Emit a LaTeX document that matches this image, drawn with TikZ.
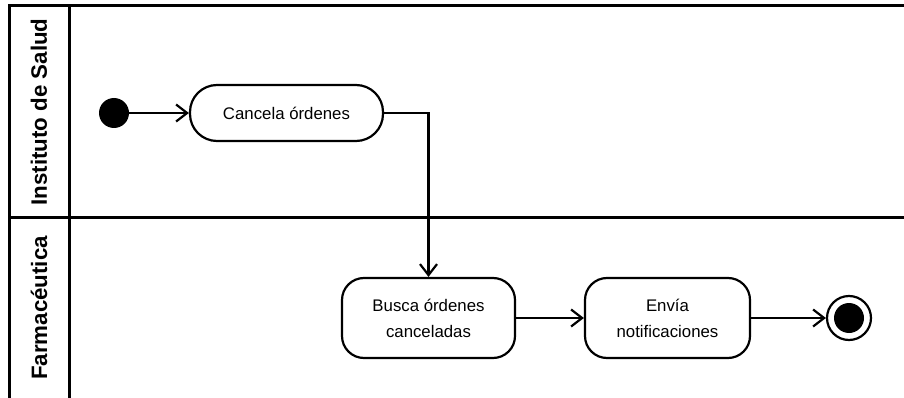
\documentclass[tikz,border=0pt]{standalone}
\usepackage{fontspec}
\setmainfont{Liberation Sans}
\usetikzlibrary{arrows.meta}
\begin{document}
\begin{tikzpicture}[x=1pt,y=-1pt,
  lane/.style={line width=3pt},
  lanelabel/.style={rotate=90,font=\fontsize{22.3}{26}\selectfont\bfseries,inner sep=0pt},
  activity/.style={draw,line width=2.2pt,inner sep=0pt,align=center,
    font=\fontsize{16.8}{26}\selectfont},
  flow/.style={line width=2.2pt,-{Straight Barb[length=11pt,width=17pt,line width=2.2pt]}},
  startnode/.style={circle,fill=black,inner sep=0pt,minimum size=30pt},
  endnode/.style={circle,draw,line width=2.2pt,inner sep=0pt,minimum size=44pt}]
  \useasboundingbox (0,0) rectangle (904,398);
  \fill[white] (0,0) rectangle (904,398);

  % swimlane frame
  \draw[lane] (904,6) -- (9,6) -- (9,398);
  \draw[lane] (69,6) -- (69,398);
  \draw[lane] (9,217) -- (904,217);
  \node[lanelabel] (laneA) at (39,112) {Instituto de Salud};
  \node[lanelabel] (laneB) at (39,308) {Farmacéutica};

  % activities
  \node[startnode] (init) at (114,113) {};
  \node[activity,rounded corners=27pt,minimum width=193pt,minimum height=56pt] (cancela) at (286.5,113) {Cancela órdenes};
  \node[activity,rounded corners=22pt,minimum width=173pt,minimum height=80pt] (busca) at (428.5,318) {Busca órdenes\\canceladas};
  \node[activity,rounded corners=22pt,minimum width=165pt,minimum height=80pt] (envia) at (667.5,318) {Envía\\notificaciones};
  \node[endnode] (final) at (849,318) {};
  \fill (final.center) circle (15pt);

  % control flow
  \draw[flow] (init) -- (cancela.west);
  \draw[flow] (cancela.east) -| (busca.north);
  \draw[flow] (busca.east) -- (envia.west);
  \draw[flow] (envia.east) -- (final.west);
\end{tikzpicture}
\end{document}
